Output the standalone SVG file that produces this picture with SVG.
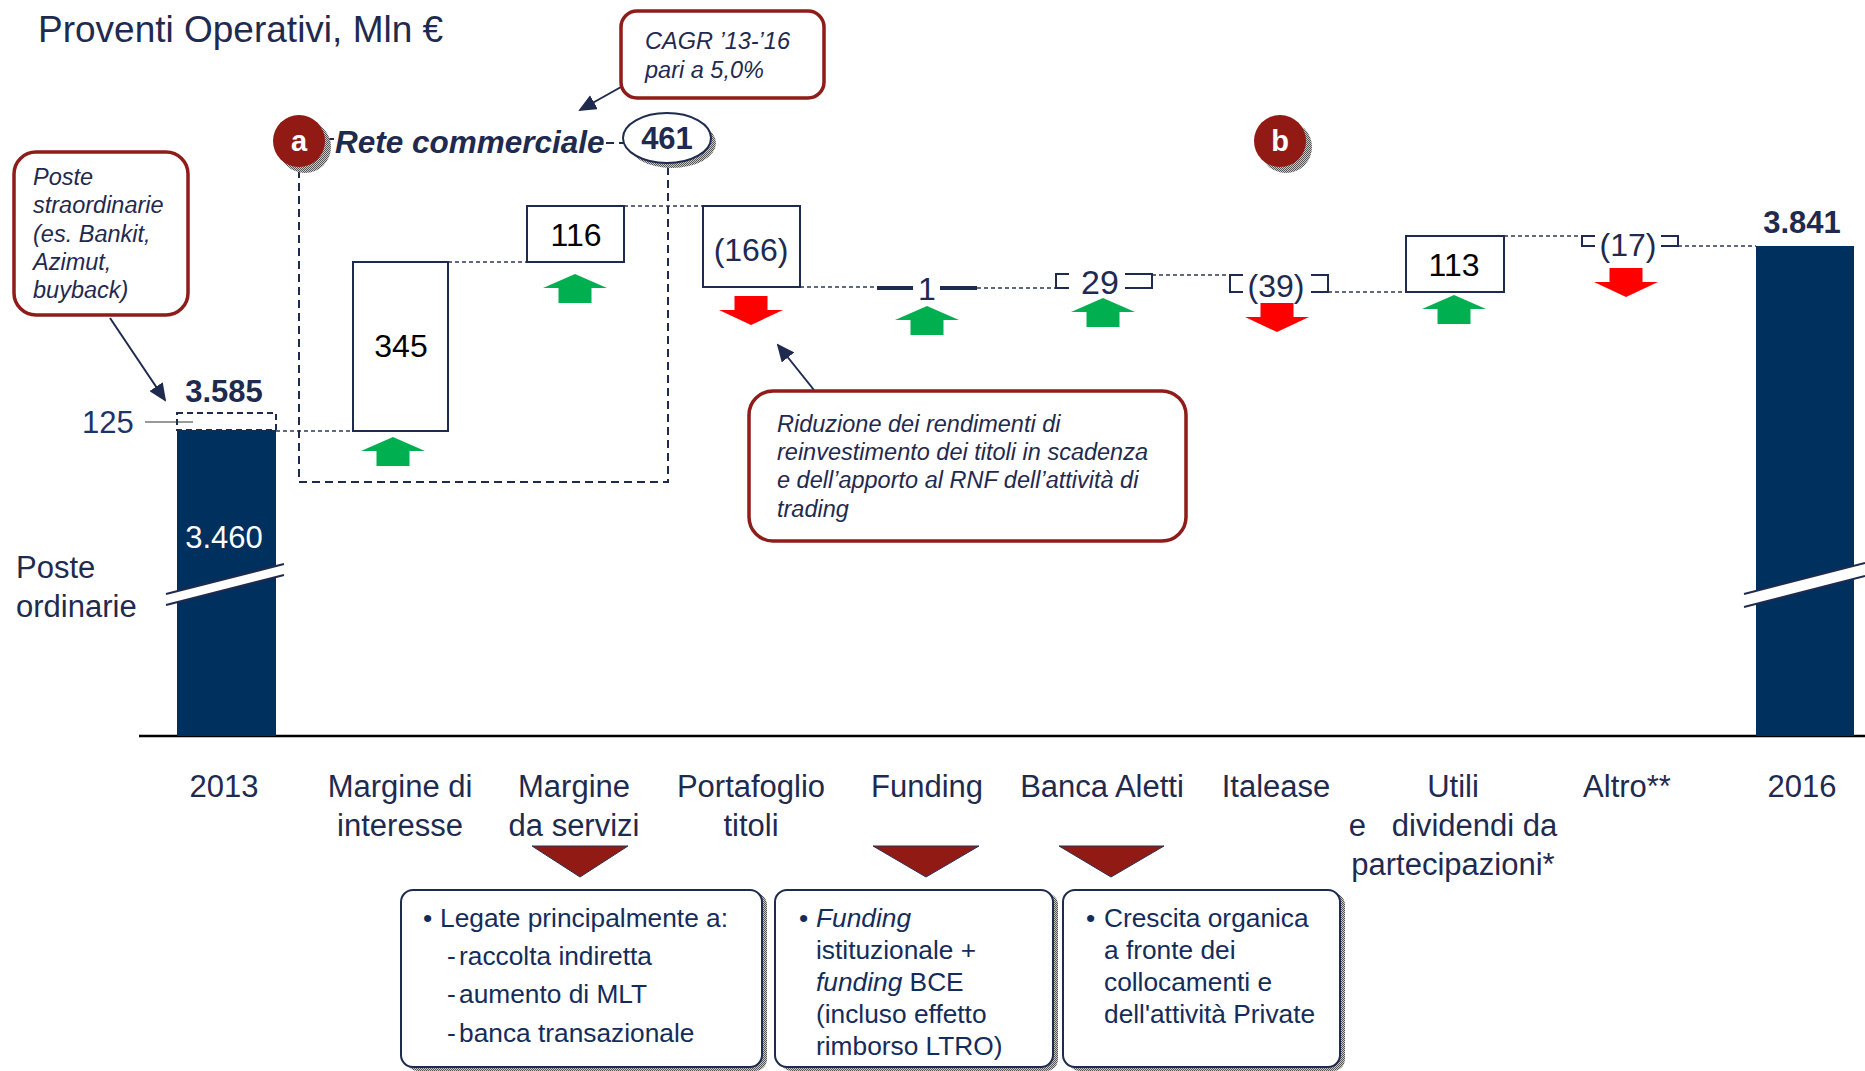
<svg xmlns="http://www.w3.org/2000/svg" width="1865" height="1071" viewBox="0 0 1865 1071">
<defs>
<style>
text{font-family:"Liberation Sans",Arial,sans-serif;fill:#1F2A4F}
.lbl{font-size:31px;text-anchor:middle}
.num{font-size:31px;text-anchor:middle}
.snum{font-size:32px;text-anchor:middle}
.blk{fill:#000}
.bold{font-weight:bold}
.it{font-style:italic}
.co{font-size:23.5px;font-style:italic}
.bx{font-size:26.3px;fill:#142C5A}
.dash{stroke:#2E3858;stroke-width:1.3;stroke-dasharray:4 3;fill:none}
.brk{stroke:#1F2A4F;stroke-width:2;fill:none}
.vbox{fill:#fff;stroke:#1F2A4F;stroke-width:2}
.call{fill:#fff;stroke:#8E1C18;stroke-width:3.5}
.bar{fill:#00305E}
.up{fill:#00B050}
.down{fill:#FF0000}
.tri{fill:#921A14;stroke:#2B3050;stroke-width:1}
.note{fill:#fff;stroke:#1F2A4F;stroke-width:2}
</style>
<pattern id="sh" width="2" height="2" patternUnits="userSpaceOnUse">
<rect width="2" height="2" fill="#c8c8c8"/>
<rect width="1" height="1" fill="#555"/>
<rect x="1" y="1" width="1" height="1" fill="#555"/>
</pattern>
<path id="upArrow" d="M0,0 L32,14 L16.5,14 L16.5,29 L-16.5,29 L-16.5,14 L-32,14 Z"/>
<path id="downArrow" d="M-16.5,0 H16.5 V14 H32 L0,29 L-32,14 H-16.5 Z"/>
<marker id="ah2" markerWidth="18" markerHeight="16" refX="16" refY="8" orient="auto" markerUnits="userSpaceOnUse" viewBox="0 0 18 16">
<path d="M0,0 L18,8 L0,16 Z" fill="#1F2A4F"/>
</marker>
</defs>
<rect width="1865" height="1071" fill="#fff"/>

<text x="38" y="42" style="font-size:37px">Proventi Operativi, Mln €</text>

<!-- connectors -->
<g id="connectors">
<path class="dash" d="M276,431 H353"/>
<path class="dash" d="M448,262 H527"/>
<path class="dash" d="M624,206 H703"/>
<path class="dash" d="M800,287 H877"/>
<path class="dash" d="M977,288 H1055"/>
<path class="dash" d="M1152,275 H1230"/>
<path class="dash" d="M1328,292 H1406"/>
<path class="dash" d="M1504,236 H1581"/>
<path class="dash" d="M1678,246 H1756"/>
<path d="M299,170 V482 H668 V165" fill="none" stroke="#1F2A4F" stroke-width="2" stroke-dasharray="8 5"/>
<path d="M145,422 H193" stroke="#999" stroke-width="2"/>
<path d="M110,318 L165,400" stroke="#1F2A4F" stroke-width="2" marker-end="url(#ah2)"/>
<path d="M621,87 L580,110" stroke="#1F2A4F" stroke-width="2" marker-end="url(#ah2)"/>
<path d="M814,390 L778,345" stroke="#1F2A4F" stroke-width="2" marker-end="url(#ah2)"/>
<path d="M325,139 H334 M606,143 H614 M619,143 H624" stroke="#1F2A4F" stroke-width="2"/>
</g>

<!-- axis -->
<path d="M139,736 H1865" stroke="#000" stroke-width="2.5"/>

<!-- 2013 bar -->
<g id="bar2013">
<rect class="bar" x="177" y="430" width="99" height="306"/>
<rect x="177" y="413" width="99" height="17" fill="none" stroke="#1F2A4F" stroke-width="2" stroke-dasharray="6 4"/>
<polygon points="166,594 284,564 284,575 166,605" fill="#fff"/>
<path d="M166,594 L284,564 M166,605 L284,575" stroke="#1F2A4F" stroke-width="2"/>
<text class="num" x="224" y="548" style="fill:#fff">3.460</text>
<text class="num bold" x="224" y="402">3.585</text>
<text x="82" y="433" style="font-size:31px;fill:#1A3566">125</text>
<text x="16" y="578" style="font-size:31px">Poste</text>
<text x="16" y="617" style="font-size:31px">ordinarie</text>
</g>

<!-- 2016 bar -->
<g id="bar2016">
<rect class="bar" x="1756" y="246" width="98" height="490"/>
<polygon points="1744,594 1865,563 1865,576 1744,607" fill="#fff"/>
<path d="M1744,594 L1865,563 M1744,607 L1865,576" stroke="#1F2A4F" stroke-width="2"/>
<text class="num bold" x="1802" y="233">3.841</text>
</g>

<!-- steps -->
<g id="step-margine-interesse">
<rect class="vbox" x="353" y="262" width="95" height="169"/>
<text class="snum blk" x="401" y="357">345</text>
<use href="#upArrow" class="up" x="393" y="437"/>
</g>
<g id="step-margine-servizi">
<rect class="vbox" x="527" y="206" width="97" height="56"/>
<text class="snum blk" x="576" y="246">116</text>
<use href="#upArrow" class="up" x="575" y="274"/>
</g>
<g id="step-portafoglio">
<rect class="vbox" x="703" y="206" width="97" height="81"/>
<text class="snum" x="751" y="261">(166)</text>
<use href="#downArrow" class="down" x="751" y="296"/>
</g>
<g id="step-funding">
<path d="M877,288 H913 M940,288 H977" stroke="#1F2A4F" stroke-width="4"/>
<text class="snum" x="927" y="300">1</text>
<use href="#upArrow" class="up" x="927" y="306"/>
</g>
<g id="step-aletti">
<path class="brk" d="M1069,274 H1056 V288 H1069 M1125,274 H1152 V288 H1125"/>
<text class="snum" x="1100" y="294" style="font-size:34px">29</text>
<use href="#upArrow" class="up" x="1103" y="298"/>
</g>
<g id="step-italease">
<path class="brk" d="M1243,275 H1230 V292 H1243 M1311,275 H1328 V292 H1311"/>
<text class="snum" x="1276" y="297">(39)</text>
<use href="#downArrow" class="down" x="1277" y="303"/>
</g>
<g id="step-utili">
<rect class="vbox" x="1406" y="236" width="98" height="56"/>
<text class="snum blk" x="1454" y="276">113</text>
<use href="#upArrow" class="up" x="1454" y="295"/>
</g>
<g id="step-altro">
<path class="brk" d="M1595,236 H1582 V246 H1595 M1661,236 H1678 V246 H1661"/>
<text class="snum" x="1628" y="256">(17)</text>
<use href="#downArrow" class="down" x="1626" y="268"/>
</g>

<!-- badges -->
<g id="badge-a">
<circle cx="305" cy="147" r="26" fill="url(#sh)"/>
<circle cx="299" cy="141" r="26" fill="#921A14"/>
<text x="299" y="151" class="bold" style="font-size:29px;fill:#fff;text-anchor:middle">a</text>
</g>
<text id="rete" x="335" y="153" class="bold it" style="font-size:31.5px">Rete commerciale</text>
<g id="badge-461">
<ellipse cx="672" cy="143" rx="44" ry="25" fill="url(#sh)"/>
<ellipse cx="667" cy="138" rx="44" ry="25" fill="#fff" stroke="#1F2A4F" stroke-width="2"/>
<text x="667" y="149" class="num bold">461</text>
</g>
<g id="badge-b">
<circle cx="1286" cy="147" r="26" fill="url(#sh)"/>
<circle cx="1280" cy="141" r="26" fill="#921A14"/>
<text x="1280" y="151" class="bold" style="font-size:29px;fill:#fff;text-anchor:middle">b</text>
</g>

<!-- callouts -->
<g id="callout-cagr">
<rect class="call" x="621" y="11" width="203" height="87" rx="16"/>
<text class="co" x="645" y="49">CAGR ’13-’16</text>
<text class="co" x="645" y="78">pari a 5,0%</text>
</g>
<g id="callout-poste">
<rect class="call" x="14" y="152" width="174" height="163" rx="22"/>
<text class="co" x="33" y="185">Poste</text>
<text class="co" x="33" y="213">straordinarie</text>
<text class="co" x="33" y="242">(es. Bankit,</text>
<text class="co" x="33" y="270">Azimut,</text>
<text class="co" x="33" y="298">buyback)</text>
</g>
<g id="callout-riduzione">
<rect class="call" x="749" y="391" width="437" height="150" rx="24"/>
<text class="co" x="777" y="432">Riduzione dei rendimenti di</text>
<text class="co" x="777" y="460">reinvestimento dei titoli in scadenza</text>
<text class="co" x="777" y="488">e dell’apporto al RNF dell’attività di</text>
<text class="co" x="777" y="517">trading</text>
</g>

<!-- category labels -->
<g id="labels">
<text class="lbl" x="224" y="797">2013</text>
<text class="lbl" x="400" y="797">Margine di</text>
<text class="lbl" x="400" y="836">interesse</text>
<text class="lbl" x="574" y="797">Margine</text>
<text class="lbl" x="574" y="836">da servizi</text>
<text class="lbl" x="751" y="797">Portafoglio</text>
<text class="lbl" x="751" y="836">titoli</text>
<text class="lbl" x="927" y="797">Funding</text>
<text class="lbl" x="1102" y="797">Banca Aletti</text>
<text class="lbl" x="1276" y="797">Italease</text>
<text class="lbl" x="1453" y="797">Utili</text>
<text class="lbl" x="1453" y="836" style="white-space:pre">e   dividendi da</text>
<text class="lbl" x="1453" y="875">partecipazioni*</text>
<text class="lbl" x="1627" y="797">Altro**</text>
<text class="lbl" x="1802" y="797">2016</text>
</g>

<!-- pointer triangles -->
<g id="triangles">
<polygon class="tri" points="532,846 628,846 580,877"/>
<polygon class="tri" points="873,846 979,846 926,877"/>
<polygon class="tri" points="1059,846 1164,846 1111,877"/>
</g>

<!-- notes -->
<g id="note-servizi">
<rect x="406" y="893" width="361" height="178" rx="12" fill="url(#sh)"/>
<rect class="note" x="401" y="890" width="361" height="177" rx="12"/>
<text class="bx" x="423" y="927">•</text>
<text class="bx" x="440" y="927">Legate principalmente a:</text>
<text class="bx" x="447" y="965">-</text>
<text class="bx" x="459" y="965">raccolta indiretta</text>
<text class="bx" x="447" y="1003">-</text>
<text class="bx" x="459" y="1003">aumento di MLT</text>
<text class="bx" x="447" y="1042">-</text>
<text class="bx" x="459" y="1042">banca transazionale</text>
</g>
<g id="note-funding">
<rect x="780" y="893" width="278" height="178" rx="12" fill="url(#sh)"/>
<rect class="note" x="775" y="890" width="278" height="177" rx="12"/>
<text class="bx" x="799" y="927">•</text>
<text class="bx it" x="816" y="927">Funding</text>
<text class="bx" x="816" y="959">istituzionale +</text>
<text class="bx" x="816" y="991"><tspan class="it">funding</tspan> BCE</text>
<text class="bx" x="816" y="1023">(incluso effetto</text>
<text class="bx" x="816" y="1055">rimborso LTRO)</text>
</g>
<g id="note-aletti">
<rect x="1068" y="893" width="277" height="178" rx="12" fill="url(#sh)"/>
<rect class="note" x="1063" y="890" width="277" height="177" rx="12"/>
<text class="bx" x="1086" y="927">•</text>
<text class="bx" x="1104" y="927">Crescita organica</text>
<text class="bx" x="1104" y="959">a fronte dei</text>
<text class="bx" x="1104" y="991">collocamenti e</text>
<text class="bx" x="1104" y="1023">dell'attività Private</text>
</g>
</svg>
